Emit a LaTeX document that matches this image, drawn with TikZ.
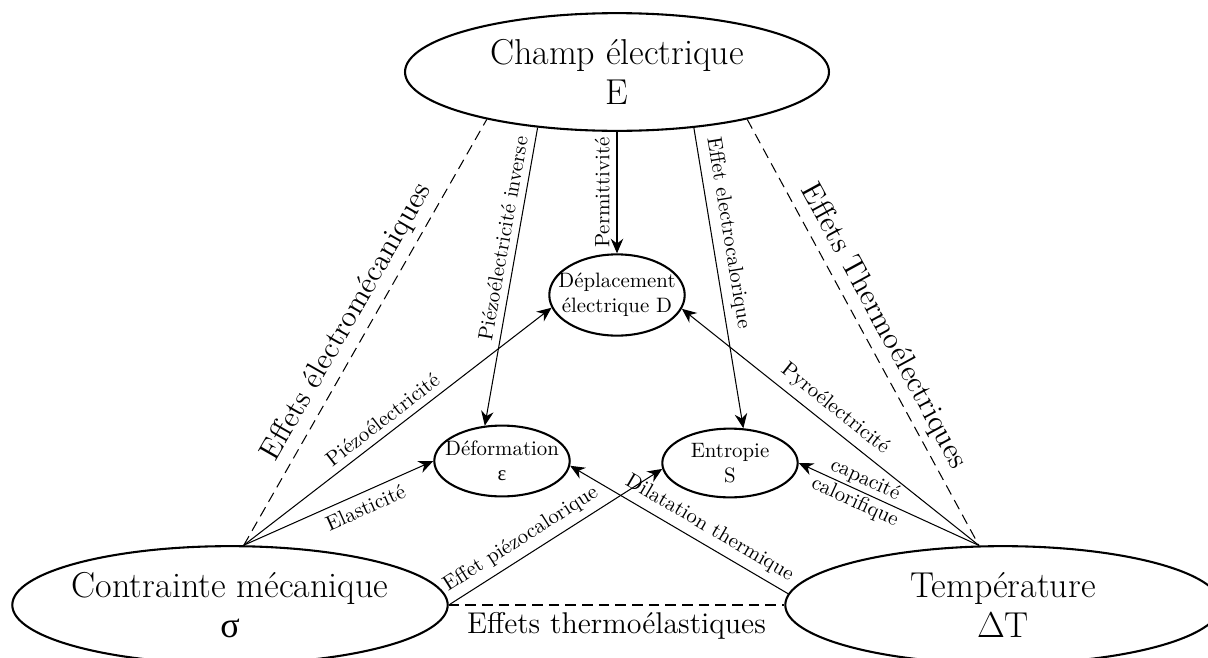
\documentclass[tikz,border=0pt]{standalone}
\usepackage{fontspec}
\newfontfamily\grk{Liberation Serif}
\usetikzlibrary{shapes.geometric,arrows.meta}

\begin{document}
\begin{tikzpicture}[x=0.48pt, y=-0.48pt,
    grand/.style={ellipse, draw, line width=1pt, inner sep=0pt, minimum width=209pt, minimum height=56.5pt},
    petit/.style={ellipse, draw, line width=1pt, inner sep=0pt, minimum width=65pt},
    titre/.style={align=center, font=\fontsize{17.28}{19.5}\selectfont},
    texte/.style={align=center},
    fleche/.style={line width=0.5pt, -{Stealth[length=7pt,width=6pt]}},
    lien/.style={line width=0.5pt, dash pattern=on 5pt off 3pt},
    effet/.style={font=\Large}]
    \clip (0,0) rectangle (1208,657);
    % grandeurs
    \node[grand, minimum width=203.5pt] (E) at (617,72) {};
    \node[titre] (Etxt) at (E) {Champ électrique\\E};
    \node[grand] (Sig) at (230,605) {};
    \node[titre] (Sigtxt) at (Sig) {Contrainte mécanique\\{\grk σ}};
    \node[grand] (T) at (1003,605) {};
    \node[titre] (Ttxt) at (T) {Température\\$\Delta$T};
    \node[petit, minimum height=39pt] (Dep) at (617,295) {};
    \node[texte] (Deptxt) at (Dep) {Déplacement\\électrique D};
    \node[petit, minimum height=34pt] (Def) at (502,461) {};
    \node[texte] (Deftxt) at (Def) {Déformation\\{\grk ε}};
    \node[petit, minimum height=33pt] (Ent) at (730,463) {};
    \node[texte] (Enttxt) at (Ent) {Entropie\\S};
    % familles d'effets
    \draw[lien] (Sig.77) -- node[effet, sloped, above, pos=0.50] {Effets électromécaniques} (E.200);
    \draw[lien] (E.-20) -- node[effet, sloped, above, pos=0.51] {Effets Thermoélectriques} (T.112);
    \draw[lien] (Sig.east) -- node[effet, below] {Effets thermoélastiques} (T.west);
    % depuis le champ
    \draw[fleche] (E.south) -- node[above, rotate=90] {Permittivité} (Dep.north);
    \draw[fleche] (E.215) -- node[sloped, above, pos=0.38] {Piézoélectricité inverse} (Def.116);
    \draw[fleche] (E.-36) -- node[sloped, above, pos=0.36] {Effet electrocalorique} (Ent.69);
    % depuis la contrainte
    \draw[fleche] (Sig.77) -- node[sloped, above, pos=0.48] {Piézoélectricité} (Dep.191);
    \draw[fleche] (Sig.77) -- node[sloped, below, pos=0.61] {Elasticité} (Def.west);
    \draw[fleche] (Sig.east) -- node[sloped, above, pos=0.38] {Effet piézocalorique} (Ent.185);
    % depuis la temperature
    \draw[fleche] (T.112) -- node[sloped, above, pos=0.52] {Pyroélectricité} (Dep.-12);
    \draw[fleche] (T.112) -- node[sloped, align=center, pos=0.66] {capacité\\calorifique} (Ent.east);
    \draw[fleche] (T.177) -- node[sloped, above, pos=0.40] {Dilatation thermique} (Def.-4);
\end{tikzpicture}
\end{document}
